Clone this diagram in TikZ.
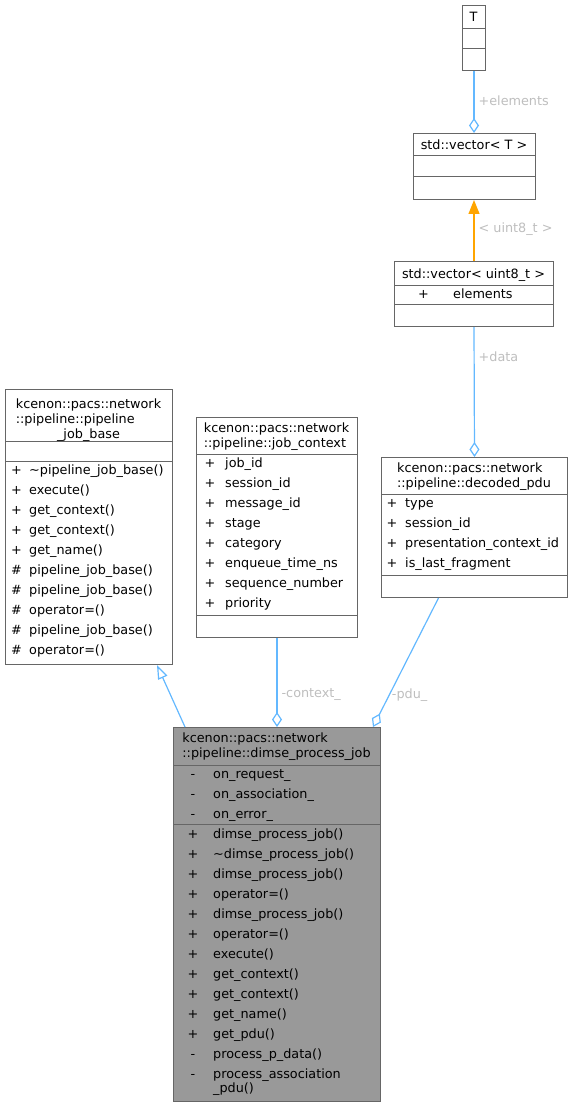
\documentclass[tikz,border=0pt]{standalone}
\usepackage{fontspec}
\setmainfont{DejaVu Sans}
\usetikzlibrary{arrows.meta}

\definecolor{edgeblue}{HTML}{63B8FF}
\definecolor{edgeorange}{HTML}{FFA500}
\definecolor{lblgray}{HTML}{BEBEBE}
\definecolor{boxgray}{HTML}{666666}
\definecolor{fillgray}{HTML}{999999}

\begin{document}
\begin{tikzpicture}[x=1pt,y=-1pt,font=\fontsize{12.8}{15}\selectfont,
  cls/.style={draw=boxgray,line width=1pt,rectangle,inner sep=0pt,anchor=north west},
  divider/.style={draw=boxgray,line width=1pt},
  clstitle/.style={inner sep=0pt,anchor=base},
  msign/.style={inner sep=0pt,anchor=base},
  mtext/.style={inner sep=0pt,anchor=base west},
  link/.style={draw=edgeblue,line width=1.2pt},
  aggr/.style={link,-{Diamond[open,length=15pt,width=10pt]}},
  lbl/.style={text=lblgray,inner sep=0pt,anchor=west,xshift=4pt}]
\useasboundingbox (0,0) rectangle (572,1107);

% classes
\node[cls,minimum width=23,minimum height=65] (T) at (462,5) {};
\node[cls,minimum width=122,minimum height=66] (vecT) at (413,133) {};
\node[cls,minimum width=159,minimum height=65] (vecU) at (394,261) {};
\node[cls,minimum width=167,minimum height=275] (base) at (5,389) {};
\node[cls,minimum width=161,minimum height=220] (ctx) at (196,417) {};
\node[cls,minimum width=186,minimum height=140] (pdu) at (381,457) {};
\node[cls,fill=fillgray,minimum width=207,minimum height=374] (job) at (173,727) {};

\foreach \n/\y in {T/29,T/49,vecT/156,vecT/177,vecU/285,vecU/304,base/441,base/461,
                   ctx/454,ctx/615,pdu/494,pdu/575,job/765,job/824} {
  \draw[divider] (\n.west |- 0,\y) -- (\n.east |- 0,\y);
}

% titles
\node[clstitle] (Ttitle) at (473.5,21.5) {T};
\node[clstitle] (vecTtitle) at (474,150) {std::vector< T >};
\node[clstitle] (vecUtitle) at (473.5,278) {std::vector< uint8\_t >};
\node[clstitle] (basetitle) at (88.5,408) {\begin{tabular}[t]{@{}l@{}}kcenon::pacs::network\\::pipeline::pipeline\\\multicolumn{1}{@{}c@{}}{\_job\_base}\end{tabular}};
\node[clstitle] (ctxtitle) at (276.5,432.5) {\begin{tabular}[t]{@{}l@{}}kcenon::pacs::network\\::pipeline::job\_context\end{tabular}};
\node[clstitle] (pdutitle) at (474,472.5) {\begin{tabular}[t]{@{}l@{}}kcenon::pacs::network\\::pipeline::decoded\_pdu\end{tabular}};
\node[clstitle] (jobtitle) at (276.5,742) {\begin{tabular}[t]{@{}l@{}}kcenon::pacs::network\\::pipeline::dimse\_process\_job\end{tabular}};

% members
\node[msign] (vecUs) at (423.5,298) {+};
\node[mtext] (vecUm) at (453,298) {elements};
\foreach \s/\m [count=\i from 0] in {+/\textasciitilde pipeline\_job\_base(),+/execute(),+/get\_context(),
    +/get\_context(),+/get\_name(),\#/pipeline\_job\_base(),\#/pipeline\_job\_base(),\#/operator=(),
    \#/pipeline\_job\_base(),\#/operator=()} {
  \node[msign] (bs\i) at (16.5,474+20*\i) {\s};
  \node[mtext] (bm\i) at (29,474+20*\i) {\m};
}
\foreach \m [count=\i from 0] in {job\_id,session\_id,message\_id,stage,category,
    enqueue\_time\_ns,sequence\_number,priority} {
  \node[msign] (cs\i) at (210,467.3+20*\i) {+};
  \node[mtext] (cm\i) at (225,467.3+20*\i) {\m};
}
\foreach \m [count=\i from 0] in {type,session\_id,presentation\_context\_id,is\_last\_fragment} {
  \node[msign] (ps\i) at (392,507.3+20*\i) {+};
  \node[mtext] (pm\i) at (405,507.3+20*\i) {\m};
}
\foreach \m [count=\i from 0] in {on\_request\_,on\_association\_,on\_error\_} {
  \node[msign] (ja\i) at (193,778+20*\i) {-};
  \node[mtext] (jt\i) at (213,778+20*\i) {\m};
}
\foreach \s/\m [count=\i from 0] in {+/dimse\_process\_job(),+/\textasciitilde dimse\_process\_job(),
    +/dimse\_process\_job(),+/operator=(),+/dimse\_process\_job(),+/operator=(),+/execute(),
    +/get\_context(),+/get\_context(),+/get\_name(),+/get\_pdu(),-/process\_p\_data(),
    -/{\begin{tabular}[t]{@{}l@{}}process\_association\\[-1pt]\_pdu()\end{tabular}}} {
  \node[msign] (js\i) at (193,838+20*\i) {\s};
  \node[mtext] (jm\i) at (213,838+20*\i) {\m};
}

% relations
\draw[aggr] (T.south) -- (T.south |- vecT.north) node[lbl,pos=0.48] (lElem) {+elements};
\draw[link,draw=edgeorange,-{Triangle[length=14pt,width=11pt]}] (vecU.north) -- (vecU.north |- vecT.south)
  node[lbl,pos=0.53] (lTpl) {< uint8\_t >};
\draw[aggr] (vecU.south) -- (pdu.north) node[lbl,pos=0.23] (lData) {+data};
\draw[link,-{Triangle[open,length=14pt,width=10pt]}] ([xshift=12pt]job.north west) -- ([xshift=-16pt]base.south east);
\draw[aggr] (ctx.south) -- (job.north) node[lbl,pos=0.64] (lCtx) {-context\_};
\draw[aggr] ([xshift=-36pt]pdu.south) -- ([xshift=-8pt]job.north east)
  node[lbl,pos=0.75,xshift=-2pt] (lPdu) {-pdu\_};
\end{tikzpicture}
\end{document}
